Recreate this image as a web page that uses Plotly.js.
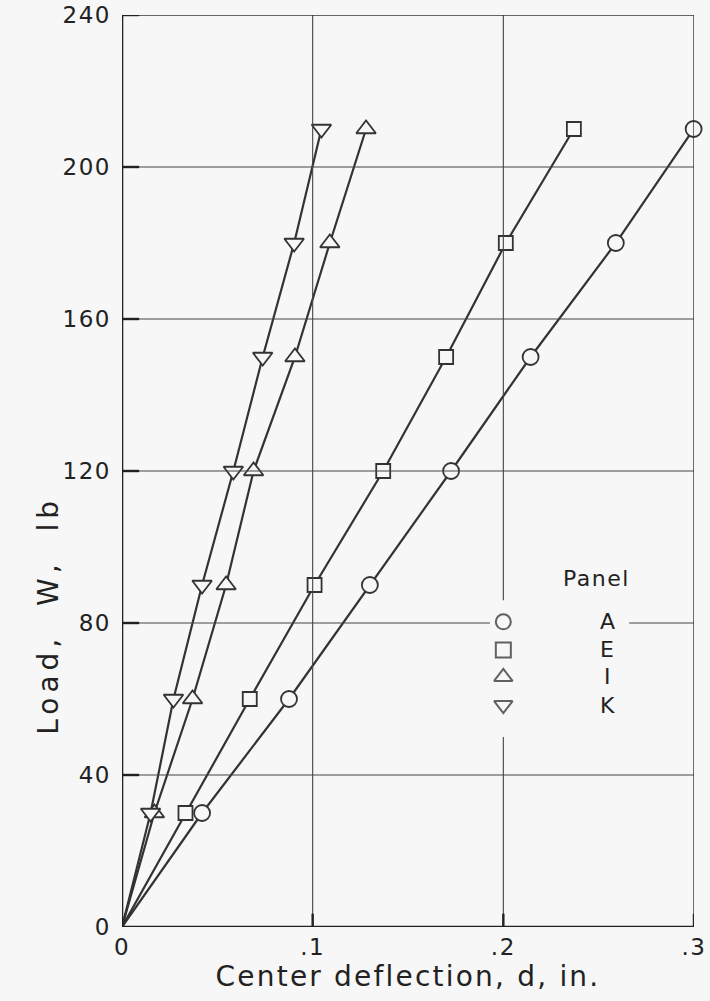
<!DOCTYPE html>
<html>
<head>
<meta charset="utf-8">
<script src="https://cdn.plot.ly/plotly-3.0.1.min.js"></script>
<style>
  html, body { margin: 0; padding: 0; background: #f7f7f7; }
  #chart { width: 710px; height: 1001px; }
  .xtitle { letter-spacing: 2.2px; }
  .ytick text, .xtick text { letter-spacing: 1.5px; }
</style>
</head>
<body>
<div id="chart"></div>
<script>
// Load values (lb)
const loads = [0, 30, 60, 90, 120, 150, 180, 210];
// Center deflection (in.) per panel
const panelA = [0, 0.042, 0.0876, 0.130, 0.1726, 0.2143, 0.259, 0.2998];
const panelE = [0, 0.0333, 0.067, 0.101, 0.137, 0.170, 0.2013, 0.237];
const panelI = [0, 0.017, 0.037, 0.0546, 0.069, 0.0907, 0.109, 0.128];
const panelK = [0, 0.015, 0.027, 0.042, 0.0584, 0.0738, 0.0903, 0.1046];

const panelNames = ['A', 'E', 'I', 'K'];
const panelSymbols = ['circle', 'square', 'triangle-up', 'triangle-down'];

const xTickVals = [0, 0.1, 0.2, 0.3];
const xTickText = ['0', '.1', '.2', '.3'];
const yTickVals = [0, 40, 80, 120, 160, 200, 240];
const yTickText = ['0', '40', '80', '120', '160', '200', '240'];

// Legend key positions (data coords)
const keyX = 0.2;
const keyLetterX = 0.2545;
const keyY = [80.3, 72.9, 65.8, 58.4];

const ink = '#333333';
const font = 'DejaVu Sans, sans-serif';

const series = [panelA, panelE, panelI, panelK];
const markerSizes = [16, 14, 17, 17];

const traces = series.map((xs, i) => ({
  x: xs,
  y: loads,
  type: 'scatter',
  mode: 'lines+markers',
  cliponaxis: false,
  line: { color: ink, width: 2.2 },
  marker: {
    symbol: panelSymbols[i],
    size: markerSizes[i],
    color: '#f7f7f7',
    opacity: loads.map(v => v === 0 ? 0 : 1),
    line: { color: ink, width: 1.8 }
  },
  showlegend: false,
  hoverinfo: 'skip'
}));

// legend key symbols
traces.push({
  x: keyY.map(() => keyX),
  y: keyY,
  type: 'scatter',
  mode: 'markers',
  cliponaxis: false,
  marker: {
    symbol: panelSymbols,
    size: [15, 15, 16, 16],
    color: '#f7f7f7',
    line: { color: '#222', width: 2 }
  },
  showlegend: false,
  hoverinfo: 'skip'
});

const sp = (t, px) => '<span style="letter-spacing:' + px + 'px">' + t + '</span>';

const annotations = panelNames.map((n, i) => ({
  x: keyLetterX, y: keyY[i], xref: 'x', yref: 'y',
  text: n, showarrow: false,
  font: { family: font, size: 22, color: '#222' }
}));
annotations.push({
  x: 0.249, y: 91.8, xref: 'x', yref: 'y',
  text: sp('Panel', 1.5), showarrow: false,
  font: { family: font, size: 22, color: '#222' }
});
// y-axis title
annotations.push({
  x: -0.161, y: 82, xref: 'paper', yref: 'y',
  text: sp('Load,\u00a0\u00a0W,\u00a0\u00a0lb', 5), showarrow: false, textangle: -90,
  font: { family: font, size: 28, color: '#222' }
});

// grid lines (with gaps around key)
const gridColor = '#444';
const shapes = [];
const hGrid = [40, 120, 160, 200];
hGrid.forEach(v => shapes.push({
  type: 'line', xref: 'x', yref: 'y', x0: 0, x1: 0.3, y0: v, y1: v,
  line: { color: gridColor, width: 1.1 }
}));
// 80 gridline broken by key
shapes.push({ type: 'line', xref: 'x', yref: 'y', x0: 0, x1: 0.193, y0: 80, y1: 80, line: { color: gridColor, width: 1.1 } });
shapes.push({ type: 'line', xref: 'x', yref: 'y', x0: 0.266, x1: 0.3, y0: 80, y1: 80, line: { color: gridColor, width: 1.1 } });
// vertical grid
shapes.push({ type: 'line', xref: 'x', yref: 'y', x0: 0.1, x1: 0.1, y0: 0, y1: 240, line: { color: gridColor, width: 1.1 } });
shapes.push({ type: 'line', xref: 'x', yref: 'y', x0: 0.2, x1: 0.2, y0: 86, y1: 240, line: { color: gridColor, width: 1.1 } });
shapes.push({ type: 'line', xref: 'x', yref: 'y', x0: 0.2, x1: 0.2, y0: 0, y1: 50, line: { color: gridColor, width: 1.1 } });
// frame
shapes.push({ type: 'line', xref: 'x', yref: 'y', x0: 0, x1: 0, y0: 0, y1: 240, line: { color: '#222', width: 2.6 } });
shapes.push({ type: 'line', xref: 'x', yref: 'y', x0: 0, x1: 0.3, y0: 0, y1: 0, line: { color: '#222', width: 2.6 } });
shapes.push({ type: 'line', xref: 'x', yref: 'y', x0: 0, x1: 0.3, y0: 240, y1: 240, line: { color: '#333', width: 1.4 } });
shapes.push({ type: 'line', xref: 'x', yref: 'y', x0: 0.3, x1: 0.3, y0: 0, y1: 240, line: { color: '#333', width: 1.4 } });
// short heavy tick marks on axes
yTickVals.slice(1).forEach(v => shapes.push({
  type: 'line', xref: 'x', yref: 'y', x0: 0, x1: 0.009, y0: v, y1: v, line: { color: '#222', width: 2.4 }
}));
xTickVals.slice(1).forEach(v => shapes.push({
  type: 'line', xref: 'x', yref: 'y', x0: v, x1: v, y0: 0, y1: 3.5, line: { color: '#222', width: 2.4 }
}));

const layout = {
  width: 710, height: 1001,
  margin: { l: 122, r: 16, t: 15, b: 74 },
  paper_bgcolor: '#f7f7f7',
  plot_bgcolor: '#f7f7f7',
  showlegend: false,
  xaxis: {
    range: [0, 0.3], showgrid: false, zeroline: false, showline: false,
    tickvals: xTickVals, ticktext: xTickText, ticks: '',
    ticklabelstandoff: 4,
    tickfont: { family: font, size: 23, color: '#222' },
    title: { text: 'Center deflection, d, in.', font: { family: font, size: 28, color: '#222' }, standoff: 4 }
  },
  yaxis: {
    range: [0, 240], showgrid: false, zeroline: false, showline: false,
    tickvals: yTickVals, ticktext: yTickText, ticks: '',
    ticklabelstandoff: 10,
    tickfont: { family: font, size: 23, color: '#222' }
  },
  shapes: shapes,
  annotations: annotations
};

Plotly.newPlot('chart', traces, layout, { displayModeBar: false, staticPlot: true });
</script>
</body>
</html>
